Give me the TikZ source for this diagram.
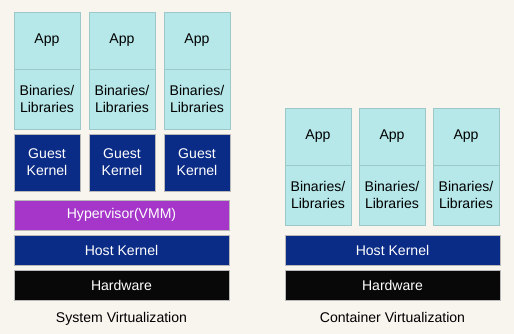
\documentclass[tikz,border=0pt]{standalone}
\usepackage{fontspec}
\setmainfont{Liberation Sans}
\usetikzlibrary{positioning}
\definecolor{vbg}{HTML}{F8F4EE}
\definecolor{vcyan}{HTML}{B6E7E9}
\definecolor{vedge}{HTML}{9CC8CA}
\definecolor{vnavy}{HTML}{0B2C86}
\definecolor{vpurple}{HTML}{A636C9}
\definecolor{vblack}{HTML}{080808}

\begin{document}
\begin{tikzpicture}[
    node distance=0cm,
    every node/.style={align=center, font=\fontsize{8}{9.5}\selectfont, outer sep=0pt, inner sep=0pt},
    layer/.style={draw=vedge, line width=0.5pt, minimum width=1.32cm},
    app/.style={layer, fill=vcyan, minimum height=1.14cm},
    libs/.style={layer, fill=vcyan, minimum height=1.2cm},
    guest/.style={layer, draw=gray!55, fill=vnavy, text=white, minimum height=1.14cm},
    bar/.style={draw=gray!55, line width=0.5pt, minimum width=4.3cm, minimum height=0.6cm, text=white}
]
    \fill[vbg] (0,0) rectangle (10.28,-6.68);

    % system virtualization
    \node[app, anchor=north west] (app1) at (0.28,-0.24) {App};
    \node[libs, below=of app1] (lib1) {Binaries/\\Libraries};
    \node[guest, below=0.1cm of lib1] (gk1) {Guest\\Kernel};
    \node[app, right=0.18cm of app1] (app2) {App};
    \node[libs, below=of app2] (lib2) {Binaries/\\Libraries};
    \node[guest, below=0.1cm of lib2] (gk2) {Guest\\Kernel};
    \node[app, right=0.18cm of app2] (app3) {App};
    \node[libs, below=of app3] (lib3) {Binaries/\\Libraries};
    \node[guest, below=0.1cm of lib3] (gk3) {Guest\\Kernel};
    \node[bar, fill=vpurple, below=0.18cm of gk1.south west, anchor=north west] (hyp) {Hypervisor(VMM)};
    \node[bar, fill=vnavy, below=0.1cm of hyp] (host1) {Host Kernel};
    \node[bar, fill=vblack, below=0.1cm of host1] (hw1) {Hardware};
    \node[below=0.24cm of hw1] (sys) {System Virtualization};

    % container virtualization
    \node[app, anchor=north west] (app4) at (5.70,-2.16) {App};
    \node[libs, below=of app4] (lib4) {Binaries/\\Libraries};
    \node[app, right=0.16cm of app4] (app5) {App};
    \node[libs, below=of app5] (lib5) {Binaries/\\Libraries};
    \node[app, right=0.16cm of app5] (app6) {App};
    \node[libs, below=of app6] (lib6) {Binaries/\\Libraries};
    \node[bar, fill=vnavy, below=0.2cm of lib4.south west, anchor=north west] (host2) {Host Kernel};
    \node[bar, fill=vblack, below=0.1cm of host2] (hw2) {Hardware};
    \node[below=0.24cm of hw2] (cont) {Container Virtualization};
\end{tikzpicture}
\end{document}
